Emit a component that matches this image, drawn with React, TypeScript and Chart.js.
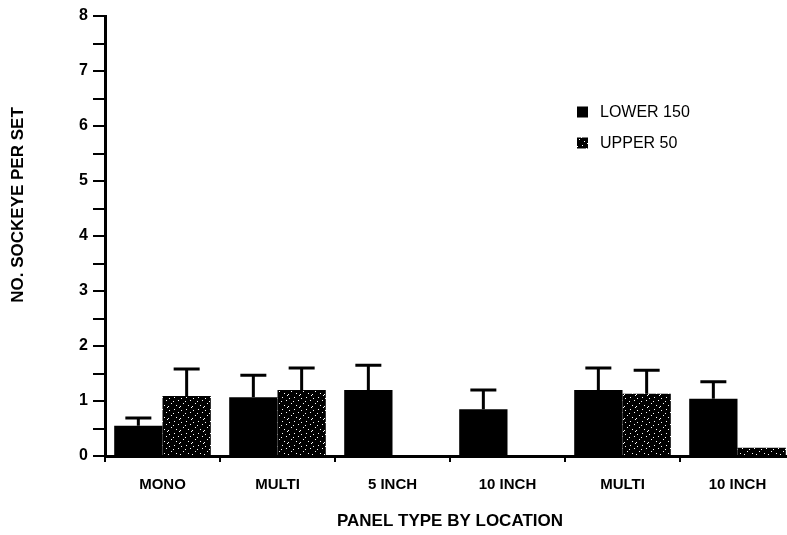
import React, { useEffect, useRef } from "react";
import { Chart, registerables } from "chart.js";

Chart.register(...registerables);

const categories = ["MONO", "MULTI", "5 INCH", "10 INCH", "MULTI", "10 INCH"];
const seriesLabels = ["LOWER 150", "UPPER 50"];
const lowerValues = [0.55, 1.07, 1.2, 0.85, 1.2, 1.04];
const upperValues = [1.09, 1.2, null, null, 1.13, 0.15];
const lowerErrorTops = [0.69, 1.47, 1.65, 1.2, 1.6, 1.35];
const upperErrorTops = [1.58, 1.6, null, null, 1.56, null];
const yMin = 0;
const yMax = 8;
const yStep = 0.5;
const xTitle = "PANEL TYPE BY LOCATION";
const yTitle = "NO. SOCKEYE PER SET";

const FONT = "'Liberation Sans', Arial, sans-serif";

function makeSpecklePattern(): CanvasPattern | string {
  const c = document.createElement("canvas");
  c.width = 12;
  c.height = 12;
  const g = c.getContext("2d");
  if (!g) return "#000";
  g.fillStyle = "#000";
  g.fillRect(0, 0, 12, 12);
  g.fillStyle = "#fff";
  const dots = [
    [1, 2], [6, 1], [10, 4], [3, 7], [8, 9], [5, 5], [0, 10], [11, 11],
  ];
  dots.forEach(([x, y]) => g.fillRect(x, y, 1, 1));
  const p = g.createPattern(c, "repeat");
  return p || "#000";
}

const errorBarPlugin = {
  id: "errorBars",
  afterDatasetsDraw(chart: any) {
    const ctx = chart.ctx;
    const yScale = chart.scales.y;
    const tops = [lowerErrorTops, upperErrorTops];
    chart.data.datasets.forEach((_ds: any, di: number) => {
      const meta = chart.getDatasetMeta(di);
      meta.data.forEach((bar: any, i: number) => {
        const top = tops[di][i];
        if (top == null) return;
        const yTop = yScale.getPixelForValue(top);
        ctx.save();
        ctx.strokeStyle = "#000";
        ctx.lineWidth = 3;
        ctx.beginPath();
        ctx.moveTo(bar.x, bar.y);
        ctx.lineTo(bar.x, yTop);
        ctx.moveTo(bar.x - 13, yTop);
        ctx.lineTo(bar.x + 13, yTop);
        ctx.stroke();
        ctx.restore();
      });
    });
  },
};

const legendAndTitlePlugin = {
  id: "legendAndTitle",
  afterDraw(chart: any) {
    const ctx = chart.ctx;
    ctx.save();
    // legend
    chart.data.datasets.forEach((ds: any, i: number) => {
      const y = 112 + i * 31;
      ctx.fillStyle = ds.backgroundColor;
      ctx.fillRect(577, y - 5.5, 11, 11);
      ctx.fillStyle = "#000";
      ctx.font = `16px ${FONT}`;
      ctx.textAlign = "left";
      ctx.textBaseline = "middle";
      ctx.fillText(ds.label, 600, y + 1);
    });
    // y-axis title
    ctx.translate(18, 205);
    ctx.rotate(-Math.PI / 2);
    ctx.font = `bold 17px ${FONT}`;
    ctx.textAlign = "center";
    ctx.textBaseline = "middle";
    ctx.fillStyle = "#000";
    ctx.fillText(yTitle, 0, 0);
    ctx.restore();
  },
};

export default function App() {
  const ref = useRef<HTMLCanvasElement | null>(null);

  useEffect(() => {
    if (!ref.current) return;
    const pattern = makeSpecklePattern();
    const chart = new Chart(ref.current, {
      type: "bar",
      data: {
        labels: categories,
        datasets: [
          {
            label: seriesLabels[0],
            data: lowerValues,
            backgroundColor: "#000",
            borderWidth: 0,
          },
          {
            label: seriesLabels[1],
            data: upperValues as any,
            backgroundColor: pattern as any,
            borderWidth: 0,
          },
        ],
      },
      options: {
        animation: false,
        responsive: true,
        maintainAspectRatio: false,
        layout: { padding: { top: 16, right: 5, left: 0, bottom: 0 } },
        datasets: { bar: { barPercentage: 1.0, categoryPercentage: 0.84 } },
        plugins: {
          legend: { display: false },
          tooltip: { enabled: false },
        },
        scales: {
          x: {
            type: "category",
            offset: true,
            grid: {
              offset: true,
              drawOnChartArea: false,
              drawTicks: true,
              tickLength: 6,
              color: "#000",
              lineWidth: 2,
            },
            border: { display: true, color: "#000", width: 3 },
            ticks: {
              color: "#000",
              font: { family: FONT, size: 15, weight: "bold" },
              padding: 14,
              maxRotation: 0,
              autoSkip: false,
            },
            title: {
              display: true,
              text: xTitle,
              color: "#000",
              font: { family: FONT, size: 17, weight: "bold" },
              padding: { top: 0, bottom: 3 },
            },
            afterFit(scale: any) {
              scale.height = 79;
            },
          },
          y: {
            min: yMin,
            max: yMax,
            grid: {
              drawOnChartArea: false,
              drawTicks: true,
              tickLength: 12,
              color: "#000",
              lineWidth: 2,
            },
            border: { display: true, color: "#000", width: 3 },
            ticks: {
              stepSize: yStep,
              color: "#000",
              font: { family: FONT, size: 16, weight: "bold" },
              padding: 5,
              callback: (v: any) => (Number.isInteger(v) ? String(v) : ""),
            },
            afterFit(scale: any) {
              scale.width = 105;
            },
          },
        },
      },
      plugins: [errorBarPlugin, legendAndTitlePlugin],
    });
    return () => chart.destroy();
  }, []);

  return (
    <div
      style={{
        position: "fixed",
        left: 0,
        top: 0,
        width: 787,
        height: 535,
        overflow: "hidden",
        background: "#fff",
      }}
    >
      <div style={{ position: "relative", width: 800, height: 535 }}>
        <canvas ref={ref} />
      </div>
    </div>
  );
}
